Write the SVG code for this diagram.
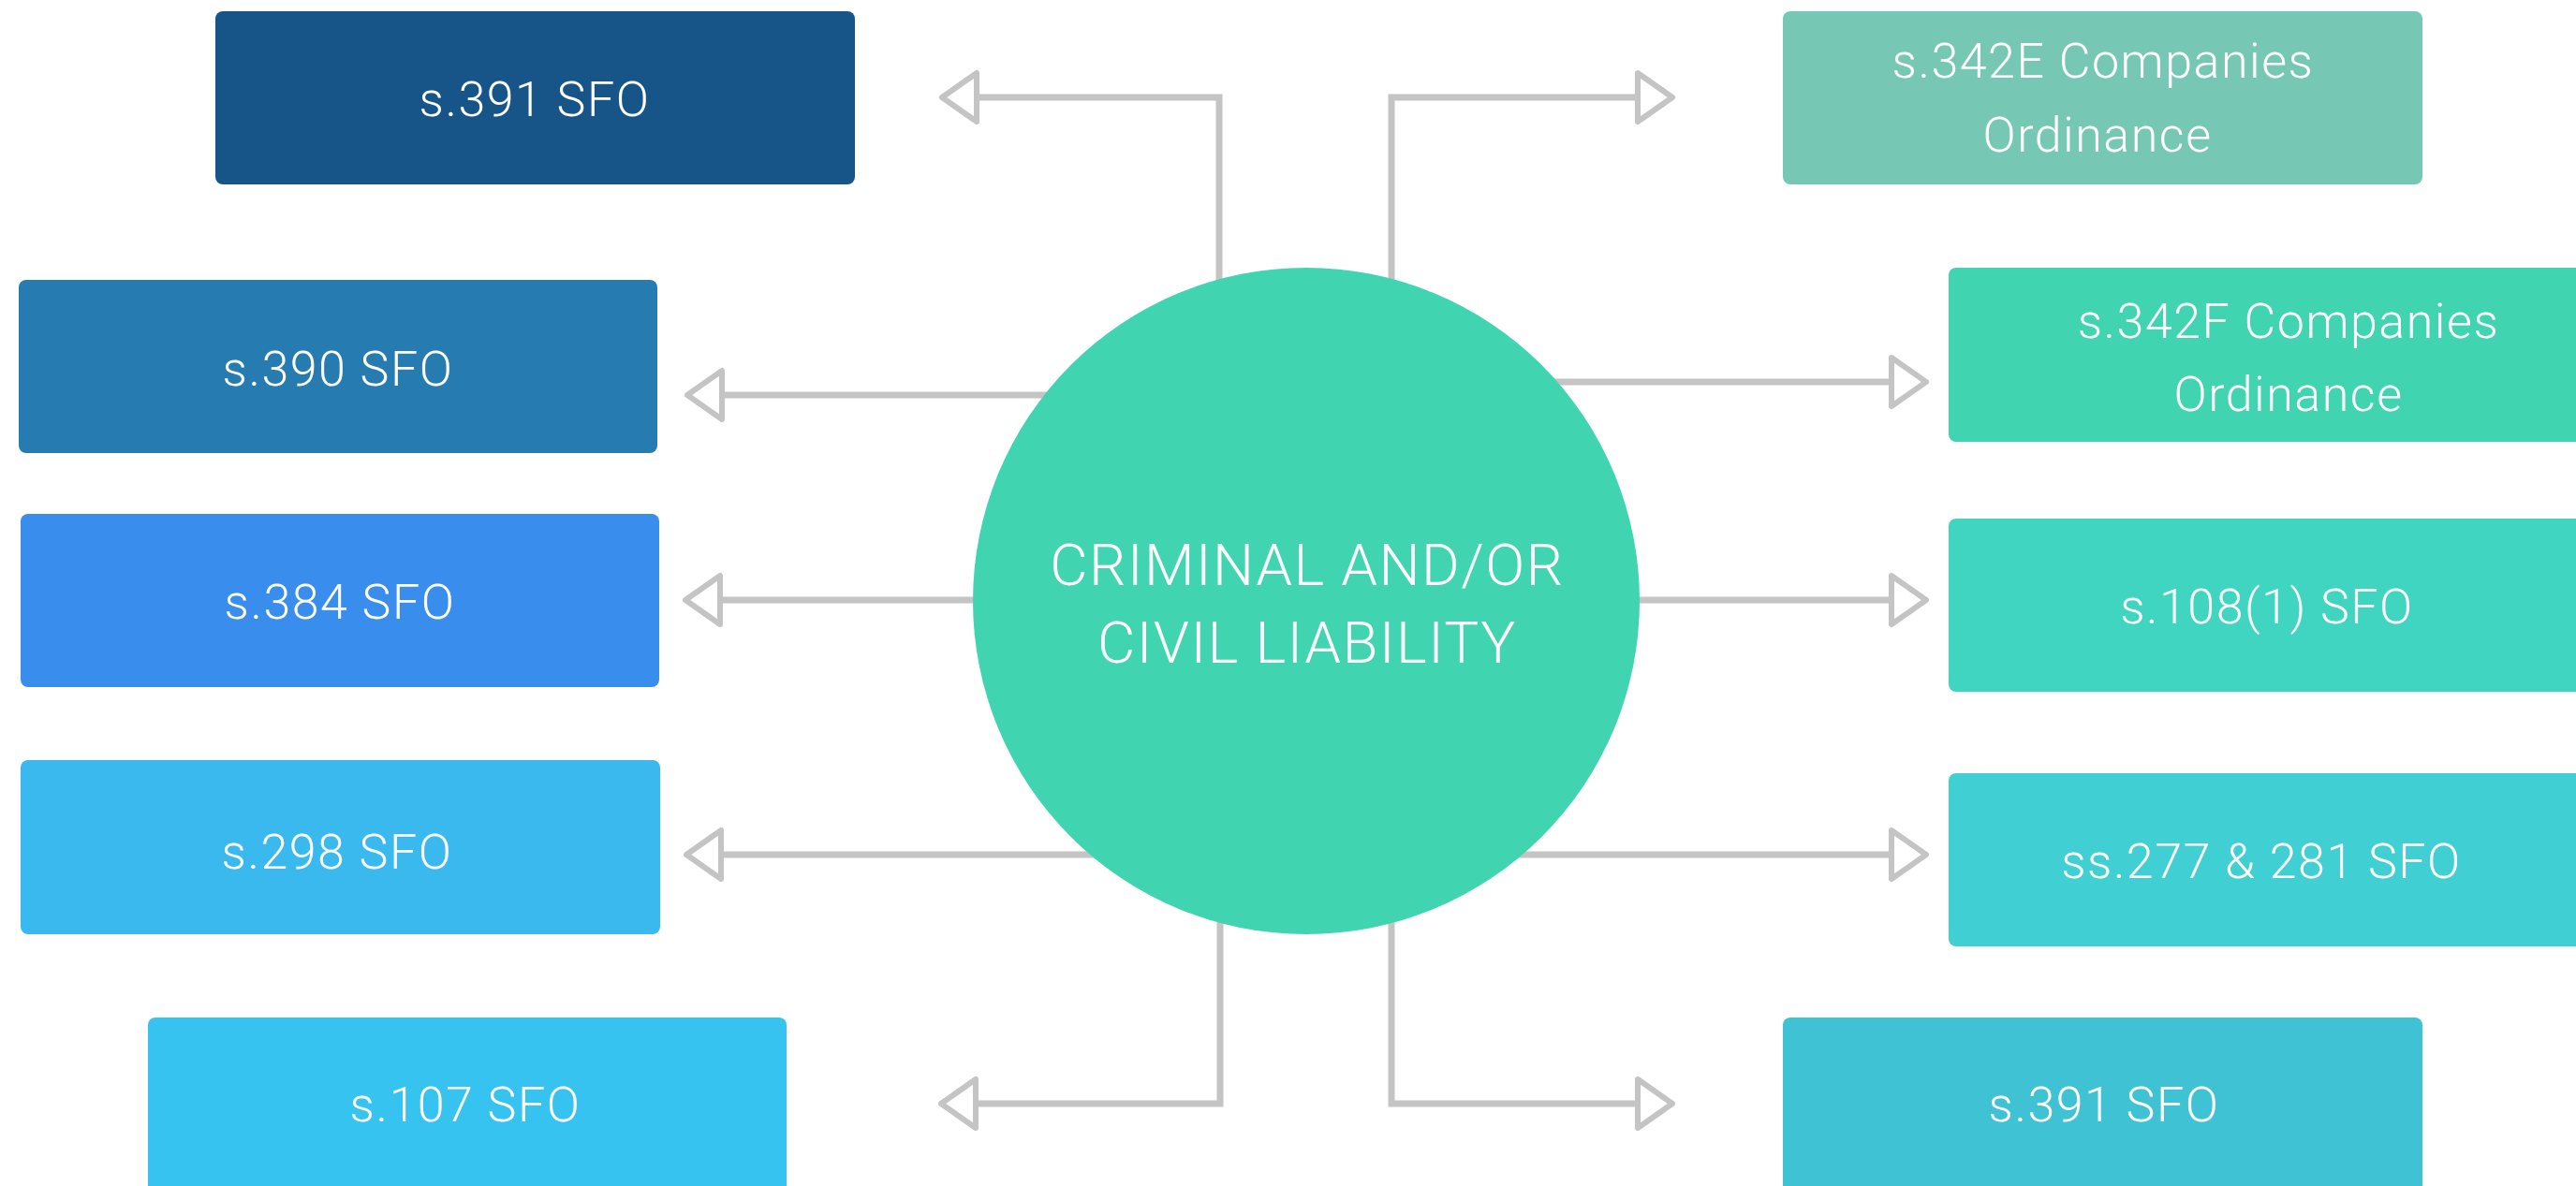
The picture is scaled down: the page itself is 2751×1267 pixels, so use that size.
<svg xmlns="http://www.w3.org/2000/svg" width="2751" height="1267" viewBox="0 0 2751 1267">
<style>
.bg{fill:#ffffff}
.lbl{font-family:Roboto,"Liberation Sans",sans-serif;font-weight:300;font-size:52px;fill:#ffffff;text-anchor:middle;letter-spacing:1.5px}
.ctr{font-family:Roboto,"Liberation Sans",sans-serif;font-weight:300;font-size:62px;fill:#ffffff;text-anchor:middle;letter-spacing:1.5px}
.conn{fill:none;stroke:#c4c4c4;stroke-width:7}
</style>
<defs>
<marker id="arr" markerUnits="userSpaceOnUse" markerWidth="60" markerHeight="70" viewBox="-6 -35 52 70" refX="0" refY="0" orient="auto">
<path d="M0,-26 L37,0 L0,26 Z" fill="#ffffff" stroke="#c4c4c4" stroke-width="6" stroke-linejoin="round"/>
</marker>
</defs>
<rect class="bg" x="0" y="0" width="2751" height="1267"/>
<g id="connectors">
<path class="conn" d="M1302,400 V104 H1043" marker-end="url(#arr)"/>
<path class="conn" d="M1200,422 H771" marker-end="url(#arr)"/>
<path class="conn" d="M1200,641 H769" marker-end="url(#arr)"/>
<path class="conn" d="M1200,913 H770" marker-end="url(#arr)"/>
<path class="conn" d="M1303,900 V1179 H1042" marker-end="url(#arr)"/>
<path class="conn" d="M1486,400 V104 H1749" marker-end="url(#arr)"/>
<path class="conn" d="M1600,408 H2020" marker-end="url(#arr)"/>
<path class="conn" d="M1600,641 H2020" marker-end="url(#arr)"/>
<path class="conn" d="M1600,913 H2020" marker-end="url(#arr)"/>
<path class="conn" d="M1486,900 V1179 H1749" marker-end="url(#arr)"/>
</g>
<g id="center">
<circle cx="1395" cy="642" r="356" fill="#41d4b0"/>
<text class="ctr" x="1396" y="625">CRIMINAL AND/OR</text>
<text class="ctr" x="1396" y="708">CIVIL LIABILITY</text>
</g>
<g id="n-s391-left">
<rect x="230" y="12" width="683" height="185" rx="8" fill="#175588"/>
<text class="lbl" x="571" y="124">s.391 SFO</text>
</g>
<g id="n-s390">
<rect x="20" y="299" width="682" height="185" rx="8" fill="#267bb0"/>
<text class="lbl" x="361" y="412">s.390 SFO</text>
</g>
<g id="n-s384">
<rect x="22" y="549" width="682" height="185" rx="8" fill="#398ded"/>
<text class="lbl" x="363" y="661">s.384 SFO</text>
</g>
<g id="n-s298">
<rect x="22" y="812" width="683" height="186" rx="8" fill="#3ab9ef"/>
<text class="lbl" x="360" y="928">s.298 SFO</text>
</g>
<g id="n-s107">
<rect x="158" y="1087" width="682" height="192" rx="8" fill="#37c3ef"/>
<text class="lbl" x="497" y="1198">s.107 SFO</text>
</g>
<g id="n-s342e">
<rect x="1904" y="12" width="683" height="185" rx="8" fill="#76c8b4"/>
<text class="lbl" x="2246" y="83">s.342E Companies</text>
<text class="lbl" x="2240" y="162">Ordinance</text>
</g>
<g id="n-s342f">
<rect x="2081" y="286" width="700" height="186" rx="8" fill="#40d4b0"/>
<text class="lbl" x="2444" y="361">s.342F Companies</text>
<text class="lbl" x="2444" y="439">Ordinance</text>
</g>
<g id="n-s108">
<rect x="2081" y="554" width="700" height="185" rx="8" fill="#3fd5c0"/>
<text class="lbl" x="2421" y="666">s.108(1) SFO</text>
</g>
<g id="n-s277">
<rect x="2081" y="826" width="700" height="185" rx="8" fill="#40d0d4"/>
<text class="lbl" x="2415" y="938">ss.277 &amp; 281 SFO</text>
</g>
<g id="n-s391-right">
<rect x="1904" y="1087" width="683" height="192" rx="8" fill="#3fc2d4"/>
<text class="lbl" x="2247" y="1198">s.391 SFO</text>
</g>
</svg>
